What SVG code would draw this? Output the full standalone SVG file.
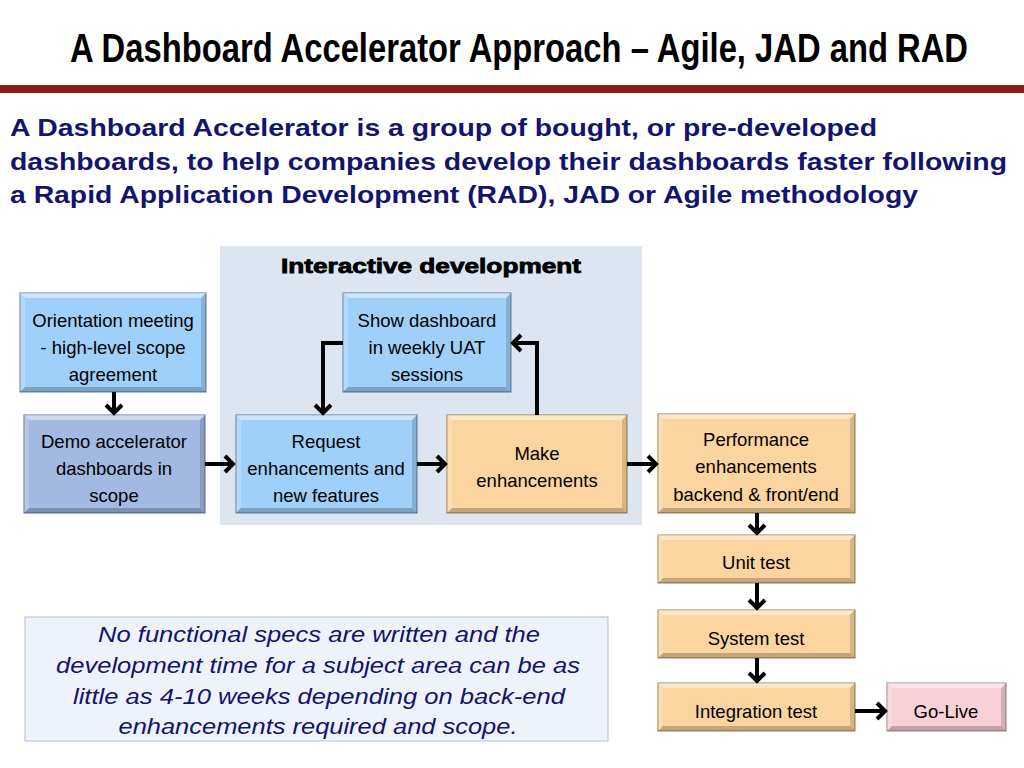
<svg xmlns="http://www.w3.org/2000/svg" width="1024" height="768" viewBox="0 0 1024 768">
<defs>
<marker id="chev" markerUnits="userSpaceOnUse" markerWidth="16" markerHeight="20" viewBox="-2 -2 16 20" refX="9" refY="8" orient="auto">
<path d="M1,0 L9,8 L1,16" fill="none" stroke="#000" stroke-width="4" stroke-linejoin="miter"/>
</marker>
</defs>
<style>
.title{font-family:"Liberation Sans",Arial,sans-serif;font-weight:bold;font-size:32px;fill:#000;text-anchor:middle}
.sub{font-family:"Liberation Sans",Arial,sans-serif;font-weight:bold;font-size:24px;fill:#14146e}
.lbl{font-family:"Liberation Sans",Arial,sans-serif;font-size:18.5px;fill:#000;text-anchor:middle}
.note{font-family:"Liberation Sans",Arial,sans-serif;font-style:italic;font-size:22px;fill:#14146e;text-anchor:middle}
.head{font-family:"Liberation Sans",Arial,sans-serif;font-weight:900;font-size:20px;fill:#000;stroke:#000;stroke-width:0.8;text-anchor:middle}
.blue{fill:#9fd0fa;stroke:#5a7da0;stroke-width:1}
.dblue{fill:#a2b9e2;stroke:#5a6f9a;stroke-width:1}
.peach{fill:#fcd49f;stroke:#9a7a50;stroke-width:1}
.pink{fill:#f8d0d8;stroke:#a07a80;stroke-width:1}
.bt{fill:#fff;fill-opacity:0.45}
.bl{fill:#fff;fill-opacity:0.2}
.bb{fill:#000;fill-opacity:0.22}
.br{fill:#000;fill-opacity:0.15}
.conn path{fill:none;stroke:#000;stroke-width:4;marker-end:url(#chev)}
</style>
<rect width="1024" height="768" fill="#fff"/>
<g id="header">
<text class="title" transform="translate(519,62) scale(1,1.25)" x="0" y="0" textLength="898" lengthAdjust="spacingAndGlyphs">A Dashboard Accelerator Approach – Agile, JAD and RAD</text>
<rect x="0" y="85" width="1024" height="8" fill="#8a1c16"/>
<text class="sub" x="10" y="136" textLength="867" lengthAdjust="spacingAndGlyphs">A Dashboard Accelerator is a group of bought, or pre-developed</text>
<text class="sub" x="10" y="170" textLength="997" lengthAdjust="spacingAndGlyphs">dashboards, to help companies develop their dashboards faster following</text>
<text class="sub" x="10" y="203" textLength="908" lengthAdjust="spacingAndGlyphs">a Rapid Application Development (RAD), JAD or Agile methodology</text>
</g>
<g id="interactive-panel">
<rect x="220" y="246" width="422" height="279" fill="#dde5f0"/>
<text class="head" x="431" y="273" textLength="300" lengthAdjust="spacingAndGlyphs">Interactive development</text>
</g>
<g id="orientation">
<rect class="blue" x="20" y="293" width="186" height="99"/>
<polygon class="bt" points="20,293 206,293 201,298 25,298"/>
<polygon class="bl" points="20,293 25,298 25,387 20,392"/>
<polygon class="bb" points="20,392 25,387 201,387 206,392"/>
<polygon class="br" points="206,293 206,392 201,387 201,298"/>
<text class="lbl" x="113" y="327">Orientation meeting</text>
<text class="lbl" x="113" y="354">- high-level scope</text>
<text class="lbl" x="113" y="381">agreement</text>
</g>
<g id="demo">
<rect class="dblue" x="24" y="415" width="181" height="98"/>
<polygon class="bt" points="24,415 205,415 200,420 29,420"/>
<polygon class="bl" points="24,415 29,420 29,508 24,513"/>
<polygon class="bb" points="24,513 29,508 200,508 205,513"/>
<polygon class="br" points="205,415 205,513 200,508 200,420"/>
<text class="lbl" x="114" y="448">Demo accelerator</text>
<text class="lbl" x="114" y="475">dashboards in</text>
<text class="lbl" x="114" y="502">scope</text>
</g>
<g id="request">
<rect class="blue" x="236" y="415" width="181" height="98"/>
<polygon class="bt" points="236,415 417,415 412,420 241,420"/>
<polygon class="bl" points="236,415 241,420 241,508 236,513"/>
<polygon class="bb" points="236,513 241,508 412,508 417,513"/>
<polygon class="br" points="417,415 417,513 412,508 412,420"/>
<text class="lbl" x="326" y="448">Request</text>
<text class="lbl" x="326" y="475">enhancements and</text>
<text class="lbl" x="326" y="502">new features</text>
</g>
<g id="show">
<rect class="blue" x="343" y="293" width="168" height="99"/>
<polygon class="bt" points="343,293 511,293 506,298 348,298"/>
<polygon class="bl" points="343,293 348,298 348,387 343,392"/>
<polygon class="bb" points="343,392 348,387 506,387 511,392"/>
<polygon class="br" points="511,293 511,392 506,387 506,298"/>
<text class="lbl" x="427" y="327">Show dashboard</text>
<text class="lbl" x="427" y="354">in weekly UAT</text>
<text class="lbl" x="427" y="381">sessions</text>
</g>
<g id="make">
<rect class="peach" x="447" y="415" width="180" height="98"/>
<polygon class="bt" points="447,415 627,415 622,420 452,420"/>
<polygon class="bl" points="447,415 452,420 452,508 447,513"/>
<polygon class="bb" points="447,513 452,508 622,508 627,513"/>
<polygon class="br" points="627,415 627,513 622,508 622,420"/>
<text class="lbl" x="537" y="460">Make</text>
<text class="lbl" x="537" y="487">enhancements</text>
</g>
<g id="performance">
<rect class="peach" x="658" y="414" width="197" height="99"/>
<polygon class="bt" points="658,414 855,414 850,419 663,419"/>
<polygon class="bl" points="658,414 663,419 663,508 658,513"/>
<polygon class="bb" points="658,513 663,508 850,508 855,513"/>
<polygon class="br" points="855,414 855,513 850,508 850,419"/>
<text class="lbl" x="756" y="446">Performance</text>
<text class="lbl" x="756" y="473">enhancements</text>
<text class="lbl" x="756" y="501">backend &amp; front/end</text>
</g>
<g id="unit-test">
<rect class="peach" x="658" y="535" width="197" height="48"/>
<polygon class="bt" points="658,535 855,535 850,540 663,540"/>
<polygon class="bl" points="658,535 663,540 663,578 658,583"/>
<polygon class="bb" points="658,583 663,578 850,578 855,583"/>
<polygon class="br" points="855,535 855,583 850,578 850,540"/>
<text class="lbl" x="756" y="569">Unit test</text>
</g>
<g id="system-test">
<rect class="peach" x="658" y="610" width="197" height="48"/>
<polygon class="bt" points="658,610 855,610 850,615 663,615"/>
<polygon class="bl" points="658,610 663,615 663,653 658,658"/>
<polygon class="bb" points="658,658 663,653 850,653 855,658"/>
<polygon class="br" points="855,610 855,658 850,653 850,615"/>
<text class="lbl" x="756" y="645">System test</text>
</g>
<g id="integration-test">
<rect class="peach" x="658" y="683" width="197" height="48"/>
<polygon class="bt" points="658,683 855,683 850,688 663,688"/>
<polygon class="bl" points="658,683 663,688 663,726 658,731"/>
<polygon class="bb" points="658,731 663,726 850,726 855,731"/>
<polygon class="br" points="855,683 855,731 850,726 850,688"/>
<text class="lbl" x="756" y="718">Integration test</text>
</g>
<g id="go-live">
<rect class="pink" x="887" y="683" width="119" height="48"/>
<polygon class="bt" points="887,683 1006,683 1001,688 892,688"/>
<polygon class="bl" points="887,683 892,688 892,726 887,731"/>
<polygon class="bb" points="887,731 892,726 1001,726 1006,731"/>
<polygon class="br" points="1006,683 1006,731 1001,726 1001,688"/>
<text class="lbl" x="946" y="718">Go-Live</text>
</g>
<g id="note">
<rect x="25" y="617" width="583" height="124" fill="#eef3fb" stroke="#b4c0d4" stroke-width="1"/>
<text class="note" x="319" y="642" textLength="442" lengthAdjust="spacingAndGlyphs">No functional specs are written and the</text>
<text class="note" x="318" y="673" textLength="524" lengthAdjust="spacingAndGlyphs">development time for a subject area can be as</text>
<text class="note" x="319" y="704" textLength="492" lengthAdjust="spacingAndGlyphs">little as 4-10 weeks depending on back-end</text>
<text class="note" x="318" y="734" textLength="399" lengthAdjust="spacingAndGlyphs">enhancements required and scope.</text>
</g>
<g id="connectors" class="conn">
<path d="M114,392 V413"/>
<path d="M205,464 H233"/>
<path d="M417,464 H445"/>
<path d="M627,464 H656"/>
<path d="M537,415 V343 H513"/>
<path d="M343,343 H323 V413"/>
<path d="M757,513 V533"/>
<path d="M757,583 V608"/>
<path d="M757,658 V681"/>
<path d="M855,711 H885"/>
</g>
</svg>
